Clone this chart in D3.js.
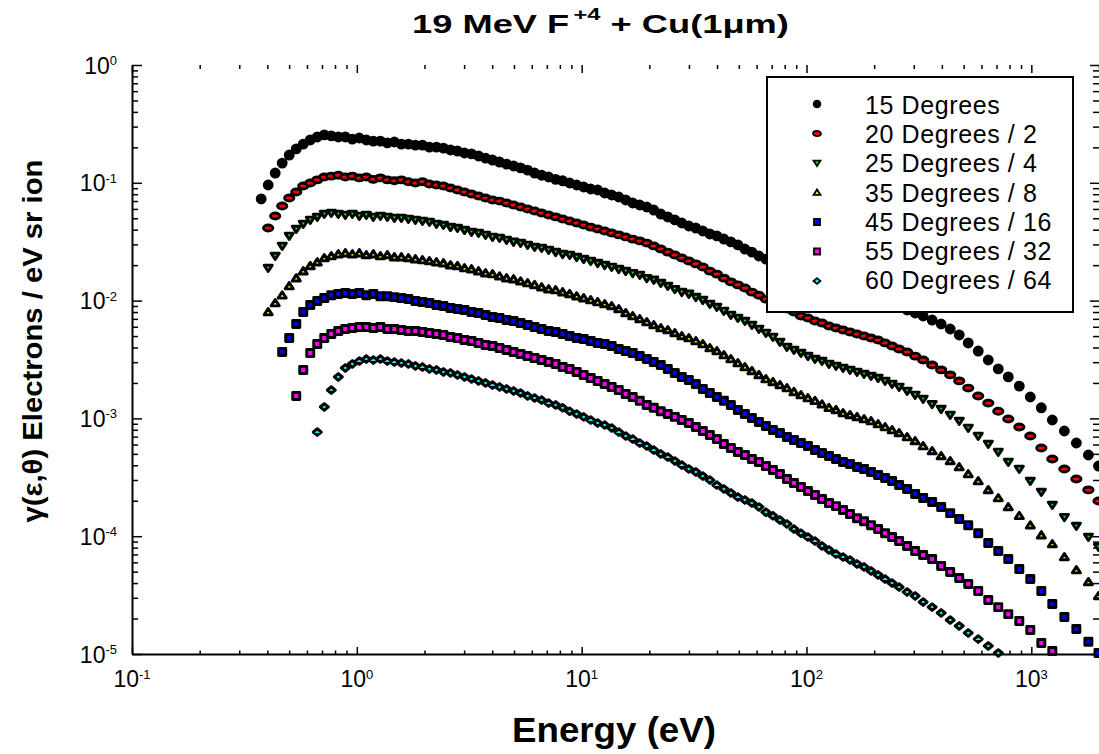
<!DOCTYPE html>
<html>
<head>
<meta charset="utf-8">
<script src="https://cdn.jsdelivr.net/npm/d3@7"></script>
<style>
  body { margin: 0; background: #fff; }
  svg { display: block; font-family: "Liberation Sans", Arial, sans-serif; }
</style>
</head>
<body>
<svg id="chart" width="1099" height="754"></svg>
<script>
// electron energy grid (eV), shared by all angles
const energy = [0.3755, 0.4034, 0.4335, 0.4657, 0.5004, 0.5377, 0.5777, 0.6207, 0.6669, 0.7166,
  0.7699, 0.8272, 0.8888, 0.9550, 1.026, 1.102, 1.184, 1.273, 1.367, 1.469,
  1.578, 1.696, 1.822, 1.958, 2.103, 2.260, 2.428, 2.609, 2.803, 3.012,
  3.236, 3.477, 3.736, 4.014, 4.313, 4.634, 4.979, 5.350, 5.748, 6.175,
  6.635, 7.129, 7.660, 8.230, 8.843, 9.500, 10.21, 10.97, 11.78, 12.66,
  13.60, 14.62, 15.70, 16.87, 18.13, 19.48, 20.93, 22.49, 24.16, 25.96,
  27.89, 29.97, 32.20, 34.59, 37.17, 39.93, 42.91, 46.10, 49.53, 53.21,
  57.17, 61.43, 66.00, 70.91, 76.19, 81.86, 87.95, 94.49, 101.5, 109.1,
  117.2, 125.9, 135.3, 145.4, 156.2, 167.8, 180.3, 193.7, 208.2, 223.7,
  240.3, 258.2, 280.3, 304.3, 330.3, 362.2, 397.2, 435.8, 477.9, 524.1,
  580.5, 643.5, 712.9, 789.8, 884.1, 989.7, 1108, 1240, 1403, 1586, 1794, 1990];

// yields (electrons / eV sr ion), already divided by the legend factor
const deg15 = [0.0729, 0.0958, 0.121, 0.147, 0.172, 0.194, 0.213, 0.231, 0.245, 0.255,
  0.250, 0.245, 0.245, 0.235, 0.240, 0.231, 0.226, 0.226, 0.218, 0.222,
  0.213, 0.213, 0.209, 0.209, 0.201, 0.201, 0.197, 0.190, 0.186, 0.179,
  0.176, 0.169, 0.162, 0.156, 0.150, 0.144, 0.139, 0.134, 0.128, 0.121,
  0.116, 0.112, 0.107, 0.104, 0.0996, 0.0958, 0.0921, 0.0886, 0.0869, 0.0819,
  0.0788, 0.0758, 0.0715, 0.0674, 0.0648, 0.0623, 0.0587, 0.0543, 0.0513, 0.0484,
  0.0456, 0.0430, 0.0413, 0.0390, 0.0368, 0.0354, 0.0333, 0.0315, 0.0297, 0.0274,
  0.0258, 0.0239, 0.0225, 0.0212, 0.0200, 0.0189, 0.0178, 0.0168, 0.0161, 0.0152,
  0.0146, 0.0138, 0.0133, 0.0128, 0.0123, 0.0118, 0.0114, 0.0109, 0.0103, 0.00973,
  0.00936, 0.00882, 0.00832, 0.00785, 0.00740, 0.00684, 0.00633, 0.00574, 0.00511, 0.00437,
  0.00373, 0.00313, 0.00263, 0.00225, 0.00188, 0.00152, 0.00123, 0.000969, 0.000782, 0.000618, 0.000489, 0.000394];

const deg20 = [null, 0.0413, 0.0523, 0.0635, 0.0743, 0.0836, 0.0939, 0.0996, 0.106, 0.112,
  0.114, 0.116, 0.112, 0.114, 0.110, 0.112, 0.107, 0.110, 0.106, 0.104,
  0.106, 0.102, 0.0996, 0.102, 0.0977, 0.0958, 0.0939, 0.0903, 0.0869, 0.0836,
  0.0804, 0.0773, 0.0743, 0.0715, 0.0700, 0.0674, 0.0648, 0.0623, 0.0599, 0.0576,
  0.0554, 0.0533, 0.0513, 0.0493, 0.0474, 0.0456, 0.0438, 0.0421, 0.0405, 0.0390,
  0.0375, 0.0361, 0.0347, 0.0333, 0.0321, 0.0308, 0.0291, 0.0274, 0.0258, 0.0244,
  0.0230, 0.0217, 0.0205, 0.0193, 0.0178, 0.0168, 0.0155, 0.0144, 0.0136, 0.0128,
  0.0118, 0.0111, 0.0103, 0.00973, 0.00918, 0.00849, 0.00800, 0.00740, 0.00712, 0.00671,
  0.00645, 0.00609, 0.00585, 0.00563, 0.00541, 0.00521, 0.00501, 0.00481, 0.00463, 0.00437,
  0.00412, 0.00388, 0.00366, 0.00338, 0.00313, 0.00284, 0.00258, 0.00234, 0.00208, 0.00181,
  0.00155, 0.00135, 0.00115, 0.000988, 0.000845, 0.000709, 0.000561, 0.000452, 0.000372, 0.000306, 0.000247, 0.000199];

const deg25 = [null, 0.0189, 0.0239, 0.0291, 0.0354, 0.0405, 0.0447, 0.0484, 0.0513, 0.0543,
  0.0554, 0.0543, 0.0533, 0.0543, 0.0523, 0.0533, 0.0513, 0.0523, 0.0513, 0.0503,
  0.0503, 0.0493, 0.0484, 0.0474, 0.0465, 0.0447, 0.0438, 0.0421, 0.0413, 0.0397,
  0.0382, 0.0375, 0.0361, 0.0347, 0.0340, 0.0327, 0.0315, 0.0308, 0.0297, 0.0285,
  0.0280, 0.0269, 0.0258, 0.0248, 0.0244, 0.0234, 0.0225, 0.0217, 0.0208, 0.0200,
  0.0193, 0.0185, 0.0178, 0.0171, 0.0165, 0.0155, 0.0150, 0.0141, 0.0133, 0.0125,
  0.0118, 0.0114, 0.0107, 0.0101, 0.00936, 0.00882, 0.00816, 0.00755, 0.00712, 0.00671,
  0.00621, 0.00574, 0.00531, 0.00491, 0.00445, 0.00404, 0.00381, 0.00359, 0.00338, 0.00319,
  0.00307, 0.00290, 0.00279, 0.00268, 0.00258, 0.00248, 0.00238, 0.00229, 0.00220, 0.00208,
  0.00196, 0.00185, 0.00171, 0.00158, 0.00146, 0.00132, 0.00120, 0.00107, 0.000950, 0.000829,
  0.000709, 0.000606, 0.000519, 0.000427, 0.000372, 0.000294, 0.000237, 0.000184, 0.000145, 0.000122, 0.0000984, 0.0000810];

const deg35 = [null, 0.00800, 0.00954, 0.0111, 0.0133, 0.0155, 0.0178, 0.0197, 0.0212, 0.0230,
  0.0239, 0.0248, 0.0253, 0.0248, 0.0253, 0.0244, 0.0248, 0.0239, 0.0244, 0.0234,
  0.0234, 0.0230, 0.0225, 0.0221, 0.0217, 0.0212, 0.0208, 0.0200, 0.0197, 0.0189,
  0.0185, 0.0178, 0.0171, 0.0168, 0.0161, 0.0155, 0.0152, 0.0146, 0.0141, 0.0136,
  0.0130, 0.0125, 0.0123, 0.0118, 0.0114, 0.0109, 0.0105, 0.0101, 0.00973, 0.00936,
  0.00900, 0.00849, 0.00785, 0.00740, 0.00698, 0.00658, 0.00621, 0.00585, 0.00563, 0.00531,
  0.00501, 0.00481, 0.00454, 0.00428, 0.00396, 0.00373, 0.00345, 0.00319, 0.00295, 0.00273,
  0.00253, 0.00234, 0.00216, 0.00204, 0.00192, 0.00181, 0.00168, 0.00158, 0.00149, 0.00141,
  0.00132, 0.00123, 0.00118, 0.00111, 0.00107, 0.00103, 0.000988, 0.000950, 0.000896, 0.000845,
  0.000797, 0.000752, 0.000695, 0.000643, 0.000583, 0.000529, 0.000480, 0.000435, 0.000387, 0.000337,
  0.000294, 0.000247, 0.000211, 0.000177, 0.000149, 0.000124, 0.000102, 0.0000859, 0.0000666, 0.0000516, 0.0000409, 0.0000311];

const deg45 = [null, null, null, 0.00366, 0.00481, 0.00633, 0.00800, 0.00918, 0.00992, 0.0105,
  0.0111, 0.0114, 0.0116, 0.0114, 0.0116, 0.0111, 0.0114, 0.0109, 0.0109, 0.0107,
  0.0105, 0.0103, 0.00992, 0.00973, 0.00954, 0.00918, 0.00900, 0.00865, 0.00849, 0.00832,
  0.00800, 0.00785, 0.00755, 0.00726, 0.00712, 0.00684, 0.00671, 0.00645, 0.00621, 0.00597,
  0.00574, 0.00552, 0.00541, 0.00521, 0.00501, 0.00481, 0.00472, 0.00454, 0.00437, 0.00428,
  0.00412, 0.00388, 0.00373, 0.00359, 0.00338, 0.00319, 0.00301, 0.00284, 0.00263, 0.00243,
  0.00225, 0.00212, 0.00196, 0.00178, 0.00164, 0.00152, 0.00141, 0.00130, 0.00118, 0.00109,
  0.00101, 0.000932, 0.000862, 0.000797, 0.000752, 0.000695, 0.000655, 0.000618, 0.000583, 0.000539,
  0.000508, 0.000480, 0.000452, 0.000427, 0.000410, 0.000387, 0.000372, 0.000351, 0.000331, 0.000312,
  0.000294, 0.000272, 0.000252, 0.000228, 0.000211, 0.000195, 0.000177, 0.000157, 0.000140, 0.000124,
  0.000106, 0.0000876, 0.0000749, 0.0000640, 0.0000527, 0.0000433, 0.0000343, 0.0000266, 0.0000206, 0.0000163, 0.0000127, 0.0000102];

const deg55 = [null, null, null, null, null, 0.00155, 0.00258, 0.00359, 0.00428, 0.00481,
  0.00521, 0.00552, 0.00574, 0.00585, 0.00597, 0.00597, 0.00585, 0.00597, 0.00574, 0.00574,
  0.00563, 0.00552, 0.00552, 0.00541, 0.00531, 0.00521, 0.00511, 0.00491, 0.00481, 0.00463,
  0.00454, 0.00437, 0.00420, 0.00412, 0.00396, 0.00381, 0.00366, 0.00352, 0.00338, 0.00325,
  0.00313, 0.00301, 0.00290, 0.00273, 0.00263, 0.00248, 0.00234, 0.00220, 0.00208, 0.00196,
  0.00185, 0.00174, 0.00161, 0.00152, 0.00141, 0.00130, 0.00123, 0.00115, 0.00109, 0.00103,
  0.000969, 0.000914, 0.000845, 0.000782, 0.000723, 0.000668, 0.000606, 0.000561, 0.000519, 0.000489,
  0.000452, 0.000427, 0.000394, 0.000365, 0.000337, 0.000306, 0.000283, 0.000262, 0.000242, 0.000224,
  0.000207, 0.000191, 0.000180, 0.000167, 0.000154, 0.000142, 0.000134, 0.000124, 0.000115, 0.000106,
  0.0000984, 0.0000910, 0.0000826, 0.0000749, 0.0000692, 0.0000640, 0.0000558, 0.0000497, 0.0000442, 0.0000393,
  0.0000343, 0.0000287, 0.0000250, 0.0000218, 0.0000191, 0.0000160, 0.0000124, 0.0000106];

const deg60 = [null, null, null, null, null, null, null, null, 0.000766, 0.00125,
  0.00174, 0.00225, 0.00268, 0.00290, 0.00307, 0.00319, 0.00313, 0.00319, 0.00307, 0.00301,
  0.00295, 0.00290, 0.00279, 0.00273, 0.00263, 0.00258, 0.00248, 0.00243, 0.00234, 0.00225,
  0.00216, 0.00208, 0.00200, 0.00192, 0.00185, 0.00178, 0.00171, 0.00164, 0.00155, 0.00149,
  0.00143, 0.00135, 0.00130, 0.00123, 0.00115, 0.00109, 0.00103, 0.000969, 0.000914, 0.000879,
  0.000829, 0.000766, 0.000709, 0.000668, 0.000618, 0.000583, 0.000539, 0.000499, 0.000470, 0.000435,
  0.000402, 0.000372, 0.000351, 0.000324, 0.000300, 0.000272, 0.000252, 0.000233, 0.000215, 0.000203,
  0.000191, 0.000177, 0.000160, 0.000149, 0.000137, 0.000127, 0.000115, 0.000106, 0.0000984, 0.0000910,
  0.0000826, 0.0000764, 0.0000706, 0.0000666, 0.0000628, 0.0000581, 0.0000548, 0.0000507, 0.0000469, 0.0000433,
  0.0000400, 0.0000370, 0.0000336, 0.0000311, 0.0000276, 0.0000250, 0.0000223, 0.0000194, 0.0000173, 0.0000151,
  0.0000134, 0.0000117, 0.0000102];

const seriesLabels = ['15 Degrees', '20 Degrees / 2', '25 Degrees / 4', '35 Degrees / 8',
  '45 Degrees / 16', '55 Degrees / 32', '60 Degrees / 64'];

const xMajor = [0.1, 1, 10, 100, 1000];
const xExp = ['-1', '0', '1', '2', '3'];
const yMajor = [1, 0.1, 0.01, 0.001, 0.0001, 0.00001];
const yExp = ['0', '-1', '-2', '-3', '-4', '-5'];

// ---- styles ----
const colors = ['#000000', '#ff0000', '#00ff00', '#ffff00', '#0000ff', '#ff00ff', '#00ffff'];

const pill = { draw(p, s) {
  const rx = Math.sqrt(s) * 0.66, ry = Math.sqrt(s) * 0.42, k = 0.5523;
  p.moveTo(rx, 0);
  p.bezierCurveTo(rx, ry * k, rx * k, ry, 0, ry);
  p.bezierCurveTo(-rx * k, ry, -rx, ry * k, -rx, 0);
  p.bezierCurveTo(-rx, -ry * k, -rx * k, -ry, 0, -ry);
  p.bezierCurveTo(rx * k, -ry, rx, -ry * k, rx, 0);
  p.closePath();
} };
const triDown = { draw(p, s) {
  const r = Math.sqrt(s) / 2;
  p.moveTo(-r * 1.15, -r * 0.8); p.lineTo(r * 1.15, -r * 0.8); p.lineTo(0, r * 1.0); p.closePath();
} };
const triUp = { draw(p, s) {
  const r = Math.sqrt(s) / 2;
  p.moveTo(-r * 1.15, r * 0.8); p.lineTo(r * 1.15, r * 0.8); p.lineTo(0, -r * 1.0); p.closePath();
} };
const diamond = { draw(p, s) {
  const r = Math.sqrt(s) / 2;
  p.moveTo(0, -r * 0.95); p.lineTo(r * 1.15, 0); p.lineTo(0, r * 0.95); p.lineTo(-r * 1.15, 0); p.closePath();
} };
const shapes = [d3.symbolCircle, pill, triDown, triUp, d3.symbolSquare, d3.symbolSquare, diamond];
const markerSize = 50;
const markerStroke = 2.9;

const svg = d3.select('#chart');
svg.append('rect').attr('width', 1099).attr('height', 754).attr('fill', '#fff');

const x = d3.scaleLog().domain([0.1, 2000]).range([132, 1099]);
const y = d3.scaleLog().domain([1e-5, 1]).range([654, 65]);

const isMajor = (list) => (v) => list.some(m => Math.abs(Math.log10(v) - Math.log10(m)) < 1e-6);
const xMinor = x.ticks().filter(v => !isMajor(xMajor)(v));
const yMinor = y.ticks().filter(v => !isMajor(yMajor)(v));

function styleAxis(g, keepDomain) {
  g.selectAll('.tick line').attr('stroke', '#000').attr('stroke-width', 1.5);
  if (keepDomain) g.select('.domain').attr('stroke', '#000').attr('stroke-width', 2);
  else g.select('.domain').remove();
  g.selectAll('.tick text').remove();
}

// bottom axis
svg.append('g').attr('transform', 'translate(0,654)')
  .call(d3.axisBottom(x).tickValues(xMinor).tickSizeInner(-3.5).tickSizeOuter(0).tickFormat(''))
  .call(g => styleAxis(g, false));
svg.append('g').attr('transform', 'translate(0,654)')
  .call(d3.axisBottom(x).tickValues(xMajor).tickSizeInner(-7).tickSizeOuter(0).tickFormat(''))
  .call(g => styleAxis(g, true));
// top ticks
svg.append('g').attr('transform', 'translate(0,65)')
  .call(d3.axisTop(x).tickValues(xMinor).tickSizeInner(-4).tickSizeOuter(0).tickFormat(''))
  .call(g => styleAxis(g, false));
svg.append('g').attr('transform', 'translate(0,65)')
  .call(d3.axisTop(x).tickValues(xMajor).tickSizeInner(-8).tickSizeOuter(0).tickFormat(''))
  .call(g => styleAxis(g, false));
// left axis
svg.append('g').attr('transform', 'translate(132,0)')
  .call(d3.axisLeft(y).tickValues(yMinor).tickSizeInner(-6).tickSizeOuter(0).tickFormat(''))
  .call(g => styleAxis(g, false));
svg.append('g').attr('transform', 'translate(132,0)')
  .call(d3.axisLeft(y).tickValues(yMajor).tickSizeInner(-10).tickSizeOuter(0).tickFormat(''))
  .call(g => styleAxis(g, true));
// right ticks
svg.append('g').attr('transform', 'translate(1099,0)')
  .call(d3.axisRight(y).tickValues(yMinor).tickSizeInner(-6).tickSizeOuter(0).tickFormat(''))
  .call(g => styleAxis(g, false));
svg.append('g').attr('transform', 'translate(1099,0)')
  .call(d3.axisRight(y).tickValues(yMajor).tickSizeInner(-9).tickSizeOuter(0).tickFormat(''))
  .call(g => styleAxis(g, false));

// tick labels 10^n
svg.append('g').selectAll('text').data(xMajor).join('text')
  .attr('x', d => x(d)).attr('y', 687).attr('text-anchor', 'middle')
  .attr('font-size', 23).attr('fill', '#000')
  .each(function (d, i) {
    const t = d3.select(this);
    t.append('tspan').text('10');
    t.append('tspan').attr('font-size', 13).attr('dy', -8.5).text(xExp[i]);
  });
svg.append('g').selectAll('text').data(yMajor).join('text')
  .attr('x', 117).attr('y', d => y(d) + 8.5).attr('text-anchor', 'end')
  .attr('font-size', 23).attr('fill', '#000')
  .each(function (d, i) {
    const t = d3.select(this);
    t.append('tspan').text('10');
    t.append('tspan').attr('font-size', 13).attr('dy', -8.5).text(yExp[i]);
  });

// data markers
const allSeries = [deg15, deg20, deg25, deg35, deg45, deg55, deg60];
allSeries.forEach((vals, si) => {
  const pts = energy.map((e, i) => [e, vals[i]]).filter(d => d[1] != null);
  const sym = d3.symbol().type(shapes[si]).size(markerSize);
  svg.append('g').selectAll('path').data(pts).join('path')
    .attr('transform', d => `translate(${x(d[0])},${y(d[1])})`)
    .attr('d', sym)
    .attr('fill', colors[si])
    .attr('stroke', '#000')
    .attr('stroke-width', markerStroke)
    .attr('stroke-linejoin', 'round');
});

// legend
const legend = svg.append('g');
legend.append('rect').attr('x', 767).attr('y', 77).attr('width', 306).attr('height', 235)
  .attr('fill', '#fff').attr('stroke', '#000').attr('stroke-width', 2);
seriesLabels.forEach((lab, i) => {
  const sym = d3.symbol().type(shapes[i]).size(36);
  legend.append('path')
    .attr('transform', `translate(817,${104 + i * 29.5})`)
    .attr('d', sym).attr('fill', colors[i]).attr('stroke', '#000').attr('stroke-width', 1.8);
  legend.append('text').attr('x', 865).attr('y', 114 + i * 29.2)
    .attr('font-size', 25).attr('letter-spacing', 0.6).attr('fill', '#000').text(lab);
});

// stretch text horizontally to a target width
function stretch(g, text, width, base) {
  const n = text.node().getComputedTextLength();
  g.attr('transform', base + ` scale(${width / n},1)`);
}

// title
const tg = svg.append('g');
const title = tg.append('text').attr('font-size', 26).attr('font-weight', 'bold').attr('fill', '#000');
title.append('tspan').text('19 MeV F');
title.append('tspan').attr('font-size', 17).attr('dy', -13).attr('dx', 3).text('+4');
title.append('tspan').attr('dy', 13).text(' + Cu(1\u03bcm)');
stretch(tg, title, 373, 'translate(412,33)');

// y label
const yg = svg.append('g');
const ylab = yg.append('text').attr('font-size', 28).attr('font-weight', 'bold')
  .attr('text-anchor', 'middle').attr('fill', '#000')
  .text('\u03b3(\u03b5,\u03b8) Electrons / eV sr ion');
stretch(yg, ylab, 363, 'translate(42,341) rotate(-90)');

// x label
const xg = svg.append('g');
const xlab = xg.append('text').attr('font-size', 36).attr('font-weight', 'bold')
  .attr('text-anchor', 'middle').attr('fill', '#000').text('Energy (eV)');
stretch(xg, xlab, 204, 'translate(614,742)');
</script>
</body>
</html>
